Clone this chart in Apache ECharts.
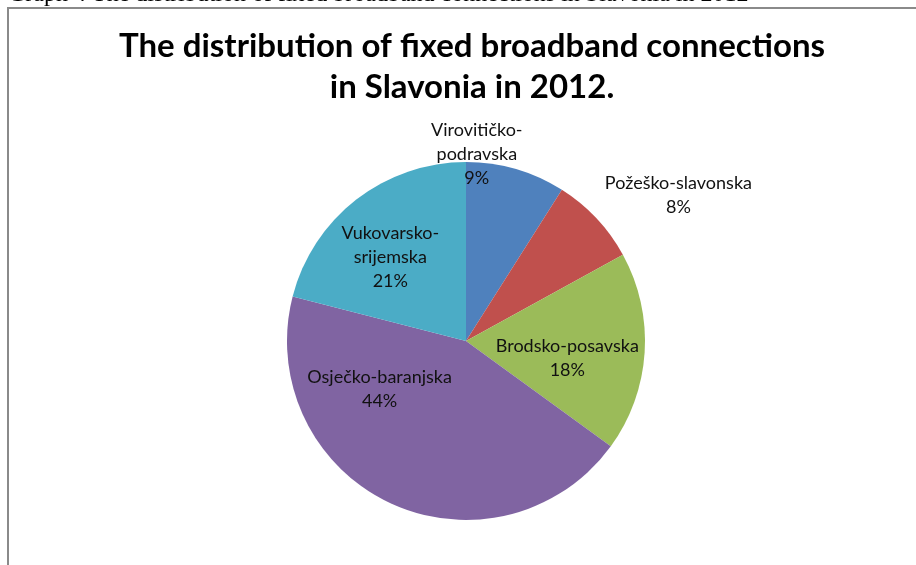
<!DOCTYPE html>
<html>
<head>
<meta charset="utf-8">
<script src="https://cdn.jsdelivr.net/npm/echarts@6/dist/echarts.min.js"></script>
<style>
  html, body { margin: 0; padding: 0; background: #ffffff; }
  #chart { width: 916px; height: 565px; }
</style>
</head>
<body>
<div id="chart"></div>
<script>
// Counties of Slavonia and their share (%) of fixed broadband connections, 2012
const counties = [
  'Virovitičko-\npodravska',
  'Požeško-slavonska',
  'Brodsko-posavska',
  'Osječko-baranjska',
  'Vukovarsko-\nsrijemska'
];
const shares = [9, 8, 18, 44, 21];
const sliceColors = ['#4F81BD', '#C0504D', '#9BBB59', '#8064A2', '#4BACC6'];

// label nudges (px) away from the default inside position
const labelShift = [[-15, -98], [145, -82], [9, 11], [-47, -36], [-19, -11]];

const chart = echarts.init(document.getElementById('chart'), null, { renderer: 'canvas' });

chart.setOption({
  backgroundColor: '#ffffff',
  animation: false,
  title: {
    text: 'The distribution of fixed broadband connections\nin Slavonia in 2012.',
    left: 467,
    textAlign: 'center',
    top: 21,
    textStyle: {
      fontFamily: 'Lato',
      fontWeight: 'bold',
      fontSize: 33,
      lineHeight: 41,
      color: '#000000'
    }
  },
  graphic: [
    {
      type: 'text',
      left: 8,
      top: -17,
      style: {
        text: 'Graph 4 The distribution of fixed broadband connections in Slavonia in 2012',
        font: '24px "Liberation Serif"',
        fill: '#000000'
      }
    },
    {
      type: 'rect',
      shape: { x: 8, y: 8, width: 1000, height: 1000 },
      style: { fill: null, stroke: '#8a8a8a', lineWidth: 2 }
    }
  ],
  series: [
    {
      type: 'pie',
      center: [466, 341],
      radius: 179,
      startAngle: 90,
      clockwise: true,
      label: {
        show: true,
        position: 'inside',
        formatter: '{b}\n{d}%',
        fontFamily: 'Lato',
        fontSize: 18,
        lineHeight: 24,
        color: '#111111',
        align: 'center'
      },
      labelLine: { show: false },
      labelLayout: function (p) {
        const s = labelShift[p.dataIndex];
        return { dx: s[0], dy: s[1] };
      },
      itemStyle: { borderWidth: 0 },
      emphasis: { disabled: true },
      data: counties.map((name, i) => ({
        name: name,
        value: shares[i],
        itemStyle: { color: sliceColors[i] }
      }))
    }
  ]
});
</script>
</body>
</html>
